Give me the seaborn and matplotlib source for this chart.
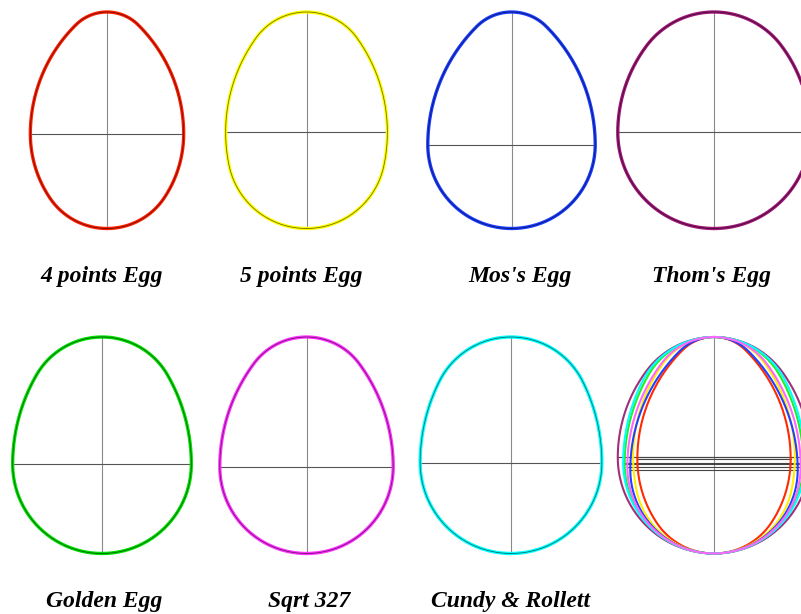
import numpy as np
import pandas as pd
import matplotlib
matplotlib.use("Agg")
import matplotlib.pyplot as plt
import seaborn as sns

# ---- data: egg constructions (units: half of the maximum width = 1) ----
names = ["4 points Egg", "5 points Egg", "Mos's Egg", "Thom's Egg",
         "Golden Egg", "Sqrt 327", "Cundy & Rollett"]
colors = ["#ff2000", "#ffff00", "#1a3cff", "#a01878", "#00e000", "#ff30ff", "#00ffff"]
overlay_colors = ["#ff2a00", "#ffee00", "#2040ff", "#a0307a", "#22ee22", "#ff66ff", "#00ffff"]
top_height = [1.59, 1.488, 1.586, 1.25, 1.423, 1.497, 1.383]      # widest line -> top
bottom_depth = [1.234, 1.189, 1.0, 1.0, 1.0, 1.0, 1.0]            # widest line -> bottom
upper_side_radius = [2.0, 2.0, 2.0, 1.5, 2.0, 2.0, 2.0]
lower_side_radius = [1.5, 2.0, 1.0, 1.0, 1.0, 1.0, 1.0]

# ---- layout (pixels) ----
FW, FH = 801, 614
S = 216.5  # egg height in px
panel_cx = [107, 306.5, 511.5, 714, 102, 306.5, 511, 714]
panel_top = [12, 12, 12, 12, 337, 337, 337, 337]
label_cx = [101.5, 301.5, 520, 711, 104, 309, 511]
label_base = [282, 282, 282, 282, 607, 607, 607]


def cap_radius(R, D):
    return (1 - 2 * R + D * D) / (2 * (D - R))


def arc(cx, cy, r, a0, a1, n=80):
    t = np.linspace(a0, a1, n)
    return cx + r * np.cos(t), cy + r * np.sin(t)


def egg_outline(T, B, Ru, Rl):
    xs, ys = [], []
    # lower part
    if abs(Rl - 1) < 1e-9:
        x, y = arc(0, 0, 1, -np.pi / 2, 0)
        xs.append(x); ys.append(y)
    else:
        rb = cap_radius(Rl, B)
        phib = np.arctan2(rb - B, Rl - 1)
        x, y = arc(0, -B + rb, rb, -np.pi / 2, phib)
        xs.append(x); ys.append(y)
        x, y = arc(1 - Rl, 0, Rl, phib, 0)
        xs.append(x); ys.append(y)
    # upper part
    rt = cap_radius(Ru, T)
    phit = np.arctan2(T - rt, Ru - 1)
    x, y = arc(1 - Ru, 0, Ru, 0, phit)
    xs.append(x); ys.append(y)
    x, y = arc(0, T - rt, rt, phit, np.pi / 2)
    xs.append(x); ys.append(y)
    xr = np.concatenate(xs); yr = np.concatenate(ys)
    x = np.concatenate([xr, -xr[::-1]])
    y = np.concatenate([yr, yr[::-1]])
    H = T + B
    return x / H, (y + B) / H, B / H, 1 / H


eggs = [egg_outline(top_height[i], bottom_depth[i], upper_side_radius[i], lower_side_radius[i])
        for i in range(len(names))]

sns.set_theme(style="white")
fig = plt.figure(figsize=(FW / 100, FH / 100), dpi=100)
fig.patch.set_facecolor("white")

PAD_X, PAD_Y = 115, 14


def make_ax(cx, top):
    x0 = cx - PAD_X
    y1 = top + S + PAD_Y
    ax = fig.add_axes([x0 / FW, 1 - y1 / FH, 2 * PAD_X / FW, (S + 2 * PAD_Y) / FH])
    ax.set_xlim(-PAD_X / S, PAD_X / S)
    ax.set_ylim(-PAD_Y / S, 1 + PAD_Y / S)
    ax.axis("off")
    return ax


for i, name in enumerate(names):
    ax = make_ax(panel_cx[i], panel_top[i])
    x, y, yw, hw = eggs[i]
    ax.plot([0, 0], [0, 1], color="#8a8a8a", lw=0.8, zorder=1)
    ax.plot([-hw, hw], [yw, yw], color="#555555", lw=0.8, zorder=1)
    df = pd.DataFrame({"x": x, "y": y})
    sns.lineplot(data=df, x="x", y="y", sort=False, estimator=None,
                 color=colors[i], lw=2.4, ax=ax, zorder=3)
    ax.plot(x, y, color="black", lw=0.6, alpha=0.55, zorder=4)
    ax.axis("off")
    fig.text(label_cx[i] / FW, 1 - label_base[i] / FH, name,
             ha="center", va="baseline", fontsize=17,
             family="Liberation Serif", style="italic", weight="bold", color="black")

# overlay panel
ax = make_ax(panel_cx[7], panel_top[7])
ax.plot([0, 0], [0, 1], color="#8a8a8a", lw=0.8, zorder=1)
order = [0, 1, 2, 3, 4, 6, 5]
for i in order:
    x, y, yw, hw = eggs[i]
    ax.plot([-hw, hw], [yw, yw], color="#444444", lw=0.8, zorder=1)
for i in order:
    x, y, yw, hw = eggs[i]
    df = pd.DataFrame({"x": x, "y": y})
    sns.lineplot(data=df, x="x", y="y", sort=False, estimator=None,
                 color=overlay_colors[i], lw=1.5, ax=ax, zorder=3)
ax.axis("off")

fig.savefig("out.png", dpi=100, facecolor="white")
